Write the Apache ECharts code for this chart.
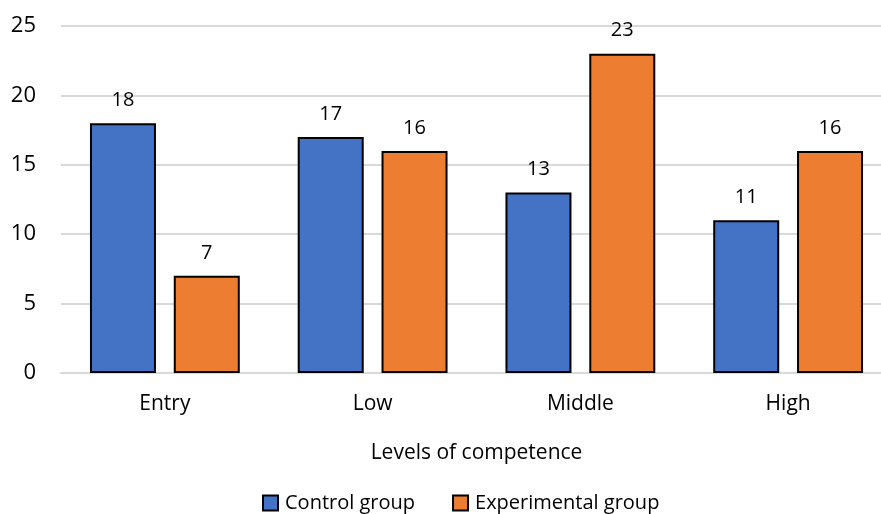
<!DOCTYPE html>
<html>
<head>
<meta charset="utf-8">
<script src="https://cdn.jsdelivr.net/npm/echarts@6/dist/echarts.min.js"></script>
<style>
  html, body { margin: 0; padding: 0; background: #fff; }
  #chart { width: 881px; height: 514px; }
</style>
</head>
<body>
<div id="chart"></div>
<script>
const categories = ["Entry", "Low", "Middle", "High"];
const controlGroup = [18, 17, 13, 11];
const experimentalGroup = [7, 16, 23, 16];
const seriesNames = ["Control group", "Experimental group"];

const font = '"Open Sans", "Noto Sans", sans-serif';

const chart = echarts.init(document.getElementById("chart"), null, { renderer: "canvas" });

const labelStyle = {
  show: true,
  position: "top",
  distance: 13,
  color: "#000",
  fontSize: 20,
  fontFamily: font,
};

chart.setOption({
  backgroundColor: "#fff",
  animation: false,
  textStyle: { fontFamily: font },
  grid: { left: 61, top: 26, width: 831, height: 347, outerBoundsMode: "none", containLabel: false },
  legend: {
    bottom: 1,
    left: 262,
    padding: 0,
    itemWidth: 15,
    itemHeight: 15,
    itemGap: 37,
    icon: "rect",
    textStyle: { color: "#000", fontSize: 20, fontFamily: font, padding: [0, 0, 0, 2] },
    data: seriesNames,
  },
  xAxis: {
    type: "category",
    data: categories,
    name: "Levels of competence",
    nameLocation: "middle",
    nameGap: 70,
    nameTextStyle: { color: "#000", fontSize: 21, fontFamily: font },
    axisLine: { show: true, lineStyle: { color: "#d9d9d9", width: 2 } },
    axisTick: { show: false },
    axisLabel: { color: "#000", fontSize: 21, margin: 21, fontFamily: font },
  },
  yAxis: {
    type: "value",
    min: 0,
    max: 25,
    interval: 5,
    axisLine: { show: false },
    axisTick: { show: false },
    axisLabel: { color: "#000", fontSize: 22, margin: 25, fontFamily: font },
    splitLine: { lineStyle: { color: "#d9d9d9", width: 2 } },
  },
  series: [
    {
      name: seriesNames[0],
      type: "bar",
      data: controlGroup,
      barWidth: 66,
      barGap: "27%",
      itemStyle: { color: "#4472c4", borderColor: "#000", borderWidth: 2 },
      label: labelStyle,
    },
    {
      name: seriesNames[1],
      type: "bar",
      data: experimentalGroup,
      barWidth: 66,
      itemStyle: { color: "#ed7d31", borderColor: "#000", borderWidth: 2 },
      label: labelStyle,
    },
  ],
});
</script>
</body>
</html>
